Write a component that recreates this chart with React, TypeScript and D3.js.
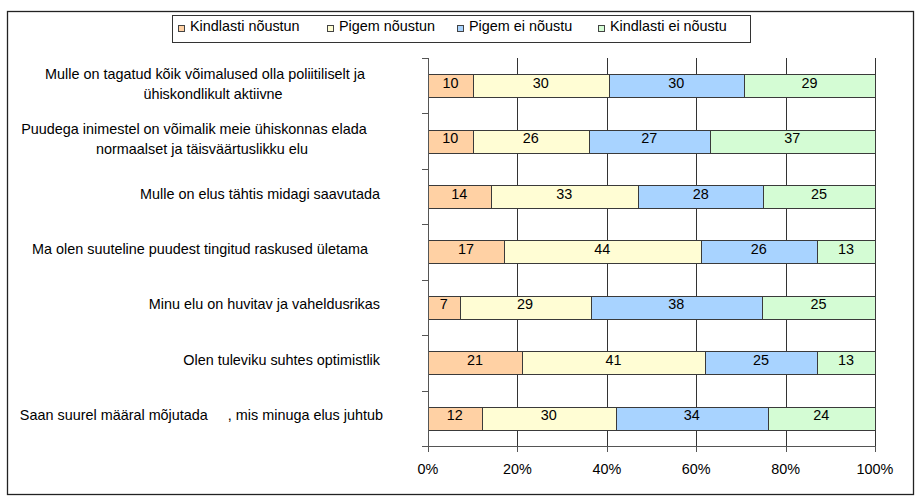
import React from "react";
import * as d3 from "d3";

// Survey statements (top to bottom) and the four answer series, in percent
const categories = [
  ["Mulle on tagatud kõik võimalused olla poliitiliselt ja", "ühiskondlikult aktiivne"],
  ["Puudega inimestel on võimalik meie ühiskonnas elada", "normaalset ja täisväärtuslikku elu"],
  ["Mulle on elus tähtis midagi saavutada"],
  ["Ma olen suuteline puudest tingitud raskused ületama"],
  ["Minu elu on huvitav ja vaheldusrikas"],
  ["Olen tuleviku suhtes optimistlik"],
  ["Saan suurel määral mõjutada     , mis minuga elus juhtub"],
];

const seriesNames = ["Kindlasti nõustun", "Pigem nõustun", "Pigem ei nõustu", "Kindlasti ei nõustu"];

const kindlastiNoustun = [10, 10, 14, 17, 7, 21, 12];
const pigemNoustun = [30, 26, 33, 44, 29, 41, 30];
const pigemEiNoustu = [30, 27, 28, 26, 38, 25, 34];
const kindlastiEiNoustu = [29, 37, 25, 13, 25, 13, 24];

const xTickValues = [0, 0.2, 0.4, 0.6, 0.8, 1];

const colors = ["#FFD1A4", "#FFFDD4", "#A8D3FF", "#D4FCD4"];
const FONT = "'Liberation Sans', Arial, Helvetica, sans-serif";
const FS = 14.4;

// Label placement for the statement texts (anchor and x per line)
const labelLayout = [
  [{ a: "middle", x: 205 }, { a: "middle", x: 213 }],
  [{ a: "middle", x: 194 }, { a: "middle", x: 202 }],
  [{ a: "end", x: 380 }],
  [{ a: "end", x: 368 }],
  [{ a: "end", x: 380 }],
  [{ a: "end", x: 380 }],
  [{ a: "end", x: 383 }],
];

const legendX = [178, 327, 457, 598];

export default function App() {
  const width = 916;
  const height = 500;
  const plot = { left: 428, right: 875, top: 58, bottom: 446 };

  const rows = categories.map((c, i) => ({
    key: String(i),
    [seriesNames[0]]: kindlastiNoustun[i],
    [seriesNames[1]]: pigemNoustun[i],
    [seriesNames[2]]: pigemEiNoustu[i],
    [seriesNames[3]]: kindlastiEiNoustu[i],
  }));

  const stacked = d3.stack<any>().keys(seriesNames).offset(d3.stackOffsetExpand)(rows);
  const x = d3.scaleLinear().domain([0, 1]).range([plot.left, plot.right]);
  const y = d3
    .scaleBand<string>()
    .domain(rows.map((r) => r.key))
    .range([plot.top, plot.bottom])
    .paddingInner(0.585)
    .paddingOuter(0.2925);
  const step = y.step();
  const bw = y.bandwidth();
  const pct = d3.format(".0%");
  const crisp = (v: number) => Math.round(v) + 0.5;

  return (
    <svg
      width={width}
      height={height}
      style={{ position: "absolute", left: 0, top: 0, background: "#fff" }}
      fontFamily={FONT}
    >
      <rect x={7.5} y={11.5} width={906} height={483} fill="#fff" stroke="#222" strokeWidth={1.3} />

      {/* legend */}
      <g>
        <rect x={172.5} y={15.5} width={578} height={27} fill="#fff" stroke="#333" strokeWidth={1} />
        {seriesNames.map((s, i) => (
          <g key={s}>
            <rect x={legendX[i] + 0.5} y={25.5} width={6} height={6} fill={colors[i]} stroke="#444" strokeWidth={1} />
            <text x={legendX[i] + 12} y={31} fontSize={FS} fill="#000">
              {s}
            </text>
          </g>
        ))}
      </g>

      {/* vertical gridlines */}
      {xTickValues.slice(1).map((t) => (
        <line key={t} x1={crisp(x(t))} x2={crisp(x(t))} y1={plot.top} y2={plot.bottom} stroke="#333" strokeWidth={1} />
      ))}

      {/* stacked bars */}
      {stacked.map((series, si) => (
        <g key={series.key}>
          {series.map((d, i) => {
            const x0 = x(d[0]);
            const x1 = x(d[1]);
            const yy = y(String(i))!;
            return (
              <rect
                key={i}
                x={crisp(x0)}
                y={crisp(yy)}
                width={Math.round(x1) - Math.round(x0)}
                height={Math.round(bw)}
                fill={colors[si]}
                stroke="#3a3a3a"
                strokeWidth={1}
              />
            );
          })}
        </g>
      ))}

      {/* value labels */}
      {stacked.map((series) =>
        series.map((d, i) => {
          const v = (d.data as any)[series.key];
          const cx = (x(d[0]) + x(d[1])) / 2;
          const yy = y(String(i))!;
          return (
            <text key={series.key + i} x={cx} y={yy + 13.5} fontSize={FS} textAnchor="middle" fill="#000">
              {v}
            </text>
          );
        })
      )}

      {/* y axis */}
      <line x1={crisp(plot.left)} x2={crisp(plot.left)} y1={plot.top} y2={plot.bottom + 0.5} stroke="#555" strokeWidth={1} />
      {d3.range(categories.length + 1).map((k) => {
        const ty = crisp(plot.top + k * step);
        return <line key={k} x1={plot.left - 6} x2={plot.left} y1={ty} y2={ty} stroke="#555" strokeWidth={1} />;
      })}

      {/* x axis */}
      <line x1={plot.left} x2={plot.right + 1} y1={crisp(plot.bottom)} y2={crisp(plot.bottom)} stroke="#555" strokeWidth={1} />
      {xTickValues.map((t) => (
        <g key={t}>
          <line x1={crisp(x(t))} x2={crisp(x(t))} y1={plot.bottom} y2={plot.bottom + 6} stroke="#555" strokeWidth={1} />
          <text x={x(t)} y={474} fontSize={FS} textAnchor="middle" fill="#000">
            {pct(t)}
          </text>
        </g>
      ))}

      {/* category labels */}
      {categories.map((lines, i) => {
        const cy = y(String(i))! + bw / 2;
        const lh = 20;
        const first = lines.length > 1 ? cy - 7 : cy + 2;
        return (
          <g key={i}>
            {lines.map((ln, li) => (
              <text
                key={li}
                x={labelLayout[i][li].x}
                y={first + li * lh}
                fontSize={FS}
                textAnchor={labelLayout[i][li].a as any}
                fill="#000"
                style={{ whiteSpace: "pre" }}
              >
                {ln}
              </text>
            ))}
          </g>
        );
      })}
    </svg>
  );
}
